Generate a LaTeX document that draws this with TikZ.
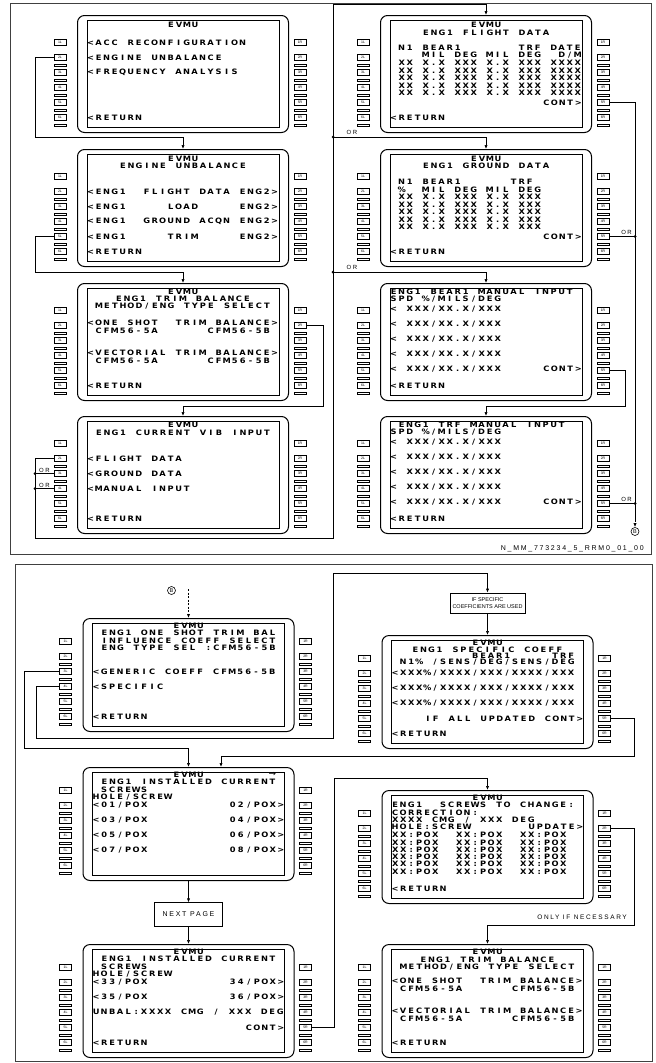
\documentclass[tikz,border=0pt]{standalone}
\usepackage{fontspec}
\usetikzlibrary{positioning,arrows.meta,calc}
\newfontfamily\cdufont{DejaVu Sans}[FakeStretch=1.12]
\newfontfamily\lblfont{Liberation Sans}[LetterSpace=25]
\newfontfamily\boxfont{Liberation Sans}
% one character per fixed cell, like the CDU display
\newlength\cduw \setlength\cduw{8pt}
\makeatletter
\newcommand\cdu[1]{\cdu@loop#1\cdu@end}
\def\cdu@end{\cdu@end@}
\def\cdu@loop#1{\ifx#1\cdu@end\else\makebox[\cduw][c]{#1}\expandafter\cdu@loop\fi}
\makeatother
\tikzset{
  scrout/.style={draw,rounded corners=7pt,minimum width=211,line width=1pt,inner sep=0pt},
  scrin/.style={draw,minimum width=192,line width=0.8pt,inner sep=0pt},
  lsk/.style={draw,minimum width=12,minimum height=6,inner sep=0pt,line width=0.55pt,
    font=\boxfont\fontsize{3.5}{3.5}\selectfont},
  lsksep/.style={draw,minimum width=12,minimum height=2.4,inner sep=0pt,line width=0.5pt},
  cdutxt/.style={inner sep=0pt,font=\cdufont\bfseries\fontsize{7.4}{7.4}\selectfont},
  arrtxt/.style={inner sep=0pt,font=\cdufont\fontsize{8}{8}\selectfont},
  conn/.style={line width=0.7pt},
  arr/.style={conn,-{Latex[length=4pt,width=3.2pt]}},
  dot/.style={circle,fill,inner sep=0pt,minimum size=3pt},
  orlbl/.style={inner sep=0pt,font=\lblfont\fontsize{6}{6}\selectfont},
  lbl/.style={inner sep=0pt,font=\lblfont\fontsize{6.5}{6.5}\selectfont},
  notebox/.style={draw,line width=0.7pt,inner sep=0pt,align=center,
    font=\boxfont\fontsize{5.5}{6.8}\selectfont},
  circB/.style={circle,draw,line width=0.6pt,minimum size=8pt,inner sep=0pt,
    font=\boxfont\fontsize{5.5}{5.5}\selectfont},
  frame/.style={line width=0.8pt,draw=black!75},
}
% screen: name, x, y (top left of bezel), height
\newcommand\cduscreen[4]{%
  \node[scrout,minimum height=#4,anchor=north west] (#1) at (#2,#3) {};
  \node[scrin,minimum height=#4-10] (#1-in) at (#1.center) {};
  \coordinate (#1-e) at ($(#1.north east)+(-9.5,0)$);
  \foreach \k in {1,...,6}{
    \coordinate (#1-r\k) at ($(#1.south west)+(9.5,{-15.5-15*(6-\k)})$);
    \node[lsk] (#1-L\k) at ($(#1.south west)+(-17,{-15.5-15*(6-\k)})$) {\k L};
    \node[lsk] (#1-R\k) at ($(#1.south east)+(11,{-15.5-15*(6-\k)})$) {\k R};
  }
  \foreach \k in {1,...,5}{
    \node[lsksep] (#1-sl\k) at ($(#1.south west)+(-17,{-8-15*(5-\k)})$) {};
    \node[lsksep] (#1-sr\k) at ($(#1.south east)+(11,{-8-15*(5-\k)})$) {};
  }
}
\newcounter{cdun}
\newcommand\txtl[2]{\stepcounter{cdun}\node[cdutxt,anchor=west] (t\arabic{cdun}) at #1 {\cdu{#2}};}
\newcommand\txtc[2]{\stepcounter{cdun}\node[cdutxt] (t\arabic{cdun}) at #1 {\cdu{#2}};}
\newcommand\txtr[2]{\stepcounter{cdun}\node[cdutxt,anchor=east] (t\arabic{cdun}) at #1 {\cdu{#2}};}
\begin{document}
\begin{tikzpicture}[x=1pt,y=-1pt]
  \useasboundingbox (0,0) rectangle (656,1063);
  \draw[frame] (10,3) rectangle (651,554);
  \draw[frame] (15,564) rectangle (652,1061.5);

  % ---- top panel screens ----
  \cduscreen{A}{77}{15}{117}
  \cduscreen{B}{77}{149}{117}
  \cduscreen{C}{77}{283}{117}
  \cduscreen{D}{77}{416}{117}
  \cduscreen{E}{380}{15}{117}
  \cduscreen{F}{380}{149}{117}
  \cduscreen{G}{380}{283}{117}
  \cduscreen{H}{380}{416}{117}

  \txtc{($(A.north)+(0,9.5)$)}{EVMU}
  \txtl{(A-r1)}{<ACC~RECONFIGURATION}
  \txtl{(A-r2)}{<ENGINE~UNBALANCE}
  \txtl{(A-r3)}{<FREQUENCY~ANALYSIS}
  \txtl{(A-r6)}{<RETURN}

  \txtc{($(B.north)+(0,9.5)$)}{EVMU}
  \txtc{($(B.north)+(0,17)$)}{ENGINE~UNBALANCE}
  \txtl{(B-r2)}{<ENG1~~FLIGHT~DATA~ENG2>}
  \txtl{(B-r3)}{<ENG1~~~~~LOAD~~~~~ENG2>}
  \txtl{(B-r4)}{<ENG1~~GROUND~ACQN~ENG2>}
  \txtl{(B-r5)}{<ENG1~~~~~TRIM~~~~~ENG2>}
  \txtl{(B-r6)}{<RETURN}

  \txtc{($(C.north)+(0,8.5)$)}{EVMU}
  \txtc{($(C.north)+(0,16)$)}{ENG1~TRIM~BALANCE}
  \txtc{($(C.north)+(0,23.5)$)}{METHOD/ENG~TYPE~SELECT}
  \txtl{($(C-r2)+(0,-2.5)$)}{<ONE~SHOT~~TRIM~BALANCE>}
  \txtl{($(C-r2)+(0,5.5)$)}{~CFM56-5A~~~~~~CFM56-5B}
  \txtl{($(C-r4)+(0,-2.5)$)}{<VECTORIAL~TRIM~BALANCE>}
  \txtl{($(C-r4)+(0,5.5)$)}{~CFM56-5A~~~~~~CFM56-5B}
  \txtl{(C-r6)}{<RETURN}

  \txtc{($(D.north)+(0,9)$)}{EVMU}
  \txtc{($(D.north)+(0,16.5)$)}{ENG1~CURRENT~VIB~INPUT}
  \txtl{(D-r2)}{<FLIGHT~DATA}
  \txtl{(D-r3)}{<GROUND~DATA}
  \txtl{(D-r4)}{<MANUAL~INPUT}
  \txtl{(D-r6)}{<RETURN}

  \txtc{($(E.north)+(0,10)$)}{EVMU}
  \txtc{($(E.north)+(0,18)$)}{ENG1~FLIGHT~DATA}
  \txtl{($(E.north west)+(9.5,33)$)}{~N1~BEAR1~~~~~~~TRF~DATE}
  \txtl{($(E.north west)+(9.5,40.5)$)}{~~~~MIL~DEG~MIL~DEG~~D/M}
  \foreach \yy in {48,55.5,63,70.5,78}{\txtl{($(E.north west)+(9.5,\yy)$)}{~XX~X.X~XXX~X.X~XXX~XXXX}}
  \txtr{(E-r5 -| E-e)}{CONT>}
  \txtl{(E-r6)}{<RETURN}

  \txtc{($(F.north)+(0,9.5)$)}{EVMU}
  \txtc{($(F.north)+(0,17)$)}{ENG1~GROUND~DATA}
  \txtl{($(F.north west)+(9.5,33)$)}{~N1~BEAR1~~~~~~TRF}
  \txtl{($(F.north west)+(9.5,40.5)$)}{~\%~~MIL~DEG~MIL~DEG}
  \foreach \yy in {48,55.5,63,70.5,78}{\txtl{($(F.north west)+(9.5,\yy)$)}{~XX~X.X~XXX~X.X~XXX}}
  \txtr{(F-r5 -| F-e)}{CONT>}
  \txtl{(F-r6)}{<RETURN}

  \txtl{($(G.north west)+(9.5,9)$)}{ENG1~BEAR1~MANUAL~INPUT}
  \txtl{($(G.north west)+(9.5,16.5)$)}{SPD~\%/MILS/DEG}
  \foreach \k in {1,...,5}{\txtl{($(G-r\k)+(0,-1.5)$)}{<~XXX/XX.X/XXX}}
  \txtr{($(G-r5 -| G-e)+(0,-1.5)$)}{CONT>}
  \txtl{(G-r6)}{<RETURN}

  \txtl{($(H.north west)+(9.5,9)$)}{~ENG1~TRF~MANUAL~INPUT}
  \txtl{($(H.north west)+(9.5,16.5)$)}{SPD~\%/MILS/DEG}
  \foreach \k in {1,...,5}{\txtl{($(H-r\k)+(0,-1.5)$)}{<~XXX/XX.X/XXX}}
  \txtr{($(H-r5 -| H-e)+(0,-1.5)$)}{CONT>}
  \txtl{(H-r6)}{<RETURN}

  % ---- top panel connectors ----
  \coordinate (busL) at (35,0);
  \coordinate (busM) at (323,0);
  \coordinate (busR) at (333,0);
  \coordinate (busG) at (625,0);
  \coordinate (busRR) at (635,0);
  \coordinate (jbot) at (333,538);
  \coordinate (jtop) at (333,4);
  \coordinate (jB) at (635,520);
  \coordinate (Fin) at ($(F.north)+(0,-12)$);
  \coordinate (Gin) at ($(G.north)+(0,-11)$);
  \coordinate (Hin) at ($(H.north)+(0,-9.5)$);

  \draw[arr] (A-L2.west) -- (A-L2.west -| busL) |- ($(B.north)+(0,-12)$) -- (B.north);
  \draw[arr] (B-L5.west) -- (B-L5.west -| busL) |- ($(C.north)+(0,-10.5)$) -- (C.north);
  \draw[arr] (C-R2.east) -- (C-R2.east -| busM) |- ($(D.north)+(0,-10)$) -- (D.north);
  \draw[arr] (D-L2.west) -- (D-L2.west -| busL) |- (jbot) -- (jtop) -| (E.north);
  \draw[conn] (D-L3.west) -- (D-L3.west -| busL) node[dot] (dD3) {}
    node[orlbl,pos=0.5,above=0.8pt] (orD3) {OR};
  \draw[conn] (D-L4.west) -- (D-L4.west -| busL) node[dot] (dD4) {}
    node[orlbl,pos=0.5,above=0.8pt] (orD4) {OR};
  \draw[arr] (Fin -| busR) node[dot] (dF) {} -- (Fin) -- (F.north);
  \node[orlbl,anchor=south west] (orF) at ($(Fin -| busR)+(13.5,-2)$) {OR};
  \draw[arr] (Gin -| busR) node[dot] (dG) {} -- (Gin) -- (G.north);
  \node[orlbl,anchor=south west] (orG) at ($(Gin -| busR)+(13.5,-2)$) {OR};
  \draw[arr] (G-R5.east) -- (G-R5.east -| busG) |- (Hin) -- (H.north);

  \draw[conn] (E-R5.east) -| (jB);
  \draw[conn] (F-R5.east) -- (F-R5.east -| busRR) node[dot] (dF5) {};
  \node[orlbl,anchor=south east] (orF5) at ($(F-R5.east -| busRR)+(-3,-1.5)$) {OR};
  \draw[conn] (H-R5.east) -- (H-R5.east -| busRR) node[dot] (dH5) {};
  \node[orlbl,anchor=south east] (orH5) at ($(H-R5.east -| busRR)+(-3,-1.5)$) {OR};
  \node[circB] (Bt) at (635,531.5) {B};
  \draw[arr,dash pattern=on 2pt off 1.5pt] (jB) -- (Bt.north);

  \node[lbl,font=\lblfont\fontsize{7}{7}\selectfont,anchor=east] (ref) at (644,548.5)
    {N\_MM\_773234\_5\_RRM0\_01\_00};

  % ---- bottom panel screens ----
  \cduscreen{S1}{82.5}{618}{113}
  \cduscreen{S2}{82.5}{767}{113}
  \cduscreen{S3}{82.5}{944}{113}
  \cduscreen{S4}{381.5}{635}{113}
  \cduscreen{S5}{381.5}{790}{113}
  \cduscreen{S6}{381.5}{944}{113}

  \txtc{($(S1.north)+(0,8)$)}{EVMU}
  \txtc{($(S1.north)+(0,15)$)}{ENG1~ONE~SHOT~TRIM~BAL}
  \txtc{($(S1.north)+(0,22.5)$)}{INFLUENCE~COEFF~SELECT}
  \txtc{($(S1.north)+(0,30)$)}{ENG~TYPE~SEL~:CFM56-5B}
  \txtl{(S1-r3)}{<GENERIC~COEFF~CFM56-5B}
  \txtl{(S1-r4)}{<SPECIFIC}
  \txtl{(S1-r6)}{<RETURN}

  \txtc{($(S2.north)+(0,7.5)$)}{EVMU}
  \node[arrtxt] (S2-arrow) at ($(S2.north east)+(-22,7)$) {→};
  \txtc{($(S2.north)+(0,14.5)$)}{ENG1~INSTALLED~CURRENT}
  \txtl{($(S2.north west)+(9.5,22.5)$)}{~SCREWS}
  \txtl{($(S2.north west)+(9.5,30.5)$)}{HOLE/SCREW}
  \txtl{(S2-r2)}{<01/POX} \txtr{(S2-r2 -| S2-e)}{02/POX>}
  \txtl{(S2-r3)}{<03/POX} \txtr{(S2-r3 -| S2-e)}{04/POX>}
  \txtl{(S2-r4)}{<05/POX} \txtr{(S2-r4 -| S2-e)}{06/POX>}
  \txtl{(S2-r5)}{<07/POX} \txtr{(S2-r5 -| S2-e)}{08/POX>}

  \txtc{($(S3.north)+(0,8)$)}{EVMU}
  \txtc{($(S3.north)+(0,15)$)}{ENG1~INSTALLED~CURRENT}
  \txtl{($(S3.north west)+(9.5,22.5)$)}{~SCREWS}
  \txtl{($(S3.north west)+(9.5,30)$)}{HOLE/SCREW}
  \txtl{(S3-r2)}{<33/POX} \txtr{(S3-r2 -| S3-e)}{34/POX>}
  \txtl{(S3-r3)}{<35/POX} \txtr{(S3-r3 -| S3-e)}{36/POX>}
  \txtl{(S3-r4)}{UNBAL:XXXX~CMG~/~XXX~DEG}
  \txtr{(S3-r5 -| S3-e)}{CONT>}
  \txtl{(S3-r6)}{<RETURN}

  \txtc{($(S4.north)+(0,8)$)}{EVMU}
  \txtc{($(S4.north)+(0,14.5)$)}{ENG1~SPECIFIC~COEFF}
  \txtl{($(S4.north west)+(9.5,20.7)$)}{~~~~~~~~~~BEAR1~~~~~TRF}
  \txtl{($(S4.north west)+(9.5,27)$)}{~N1\%~/SENS/DEG/SENS/DEG}
  \foreach \k in {2,3,4}{\txtl{(S4-r\k)}{<XXX\%/XXXX/XXX/XXXX/XXX}}
  \txtr{(S4-r5 -| S4-e)}{IF~ALL~UPDATED~CONT>}
  \txtl{(S4-r6)}{<RETURN}

  \txtc{($(S5.north)+(0,8)$)}{EVMU}
  \txtl{($(S5.north west)+(9.5,15)$)}{ENG1~~SCREWS~TO~CHANGE:}
  \txtl{($(S5.north west)+(9.5,22.3)$)}{CORRECTION:}
  \txtl{($(S5.north west)+(9.5,29.6)$)}{XXXX~CMG~/~XXX~DEG}
  \txtl{($(S5.north west)+(9.5,37)$)}{HOLE:SCREW}
  \txtr{($(S5.north east)+(-9.5,37)$)}{UPDATE>}
  \foreach \yy in {45,52.3,59.6,66.9,74.2,81.5}{\txtl{($(S5.north west)+(9.5,\yy)$)}{XX:POX~~XX:POX~~XX:POX}}
  \txtl{(S5-r6)}{<RETURN}

  \txtc{($(S6.north)+(0,8)$)}{EVMU}
  \txtc{($(S6.north)+(0,15.3)$)}{ENG1~TRIM~BALANCE}
  \txtc{($(S6.north)+(0,22.7)$)}{METHOD/ENG~TYPE~SELECT}
  \txtl{($(S6-r2)+(0,-1.5)$)}{<ONE~SHOT~~TRIM~BALANCE>}
  \txtl{($(S6-r2)+(0,6.5)$)}{~CFM56-5A~~~~~~CFM56-5B}
  \txtl{($(S6-r4)+(0,-1.5)$)}{<VECTORIAL~TRIM~BALANCE>}
  \txtl{($(S6-r4)+(0,6.5)$)}{~CFM56-5A~~~~~~CFM56-5B}
  \txtl{(S6-r6)}{<RETURN}

  \node[notebox,minimum width=75,minimum height=20] (IFb) at ($(S4.north)+(0,-32)$)
    {IF SPECIFIC\\COEFFICIENTS ARE USED};
  \node[notebox,font=\lblfont\fontsize{7}{7}\selectfont,minimum width=67.5,minimum height=23.5]
    (NP) at ($(S2.south)+(0,33.5)$) {NEXT PAGE};

  % ---- bottom panel connectors ----
  \coordinate (busA) at (24,0);
  \coordinate (busB) at (36,0);
  \coordinate (busS) at (334,0);
  \coordinate (busC) at (634,0);
  \coordinate (jS) at (333,738.5);
  \coordinate (Bin) at ($(S1.north)+(0,-29)$);
  \coordinate (S2in) at ($(S2.north)+(32.5,0)$);
  \coordinate (S6in) at ($(S6.north)+(0,-19)$);

  \node[circB] (Bb) at ($(Bin)+(-17,1.5)$) {B};
  \draw[arr,dash pattern=on 2pt off 1.5pt] (Bin) -- (S1.north);
  \draw[arr] (S1-L3.west) -- (S1-L3.west -| busA) |- ($(S2.north)+(0,-19)$) -- (S2.north);
  \draw[arr] (S1-L4.west) -- (S1-L4.west -| busB) |- (jS) |- ($(IFb.north)+(0,-19)$) -- (IFb.north);
  \draw[arr] (IFb.south) -- (S4.north);
  \draw[arr] (S4-R5.east) -- (S4-R5.east -| busC) |- ($(S2in)+(0,-10.5)$) -- (S2in);
  \draw[arr] (S2.south) -- (NP.north);
  \draw[arr] (NP.south) -- (S3.north);
  \draw[arr] (S3-R5.east) -- (S3-R5.east -| busS) |- ($(S5.north)+(0,-12)$) -- (S5.north);
  \draw[arr] (S5-R2.east) -- (S5-R2.east -| busC) |- (S6in) -- (S6.north);
  \node[lbl,anchor=south east] (onlyif) at ($(S6in -| busC)+(-7,-5.5)$) {ONLY IF NECESSARY};
\end{tikzpicture}
\end{document}
